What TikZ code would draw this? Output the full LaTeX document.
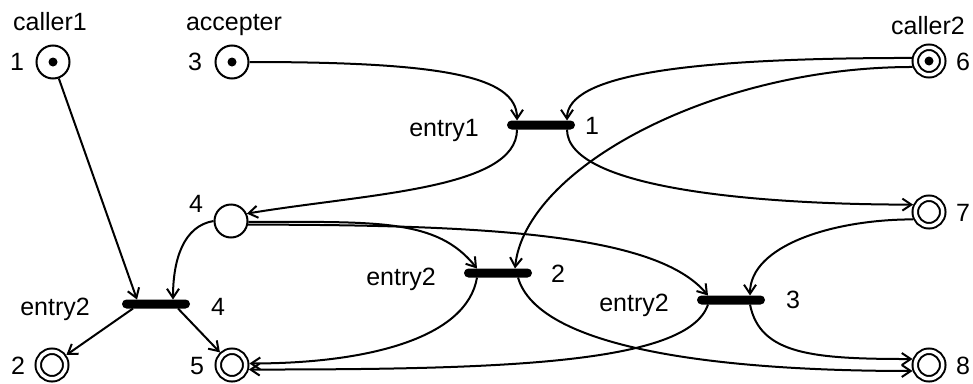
\documentclass[tikz,border=0pt]{standalone}
\usepackage{fontspec}
\setmainfont{Liberation Sans}
\usetikzlibrary{arrows.meta}
\begin{document}
\begin{tikzpicture}[x=1pt,y=-1pt,
  txt/.style={anchor=base,inner sep=0pt,font=\fontsize{25pt}{30pt}\selectfont},
  place/.style={circle,draw,line width=2pt,minimum size=33pt,inner sep=0pt,outer sep=1pt},
  final/.style={circle,draw,line width=2pt,double,double distance=3.5pt,minimum size=27.5pt,inner sep=0pt,outer sep=3.75pt},
  token/.style={path picture={\fill (path picture bounding box.center) circle (4.5pt);}},
  bar/.style={rectangle,fill,rounded corners=4.5pt,minimum width=68pt,minimum height=9pt,inner sep=0pt,outer sep=0pt},
  arc/.style={line width=2pt,-{Straight Barb[length=9pt,width=12pt]}}
]
\useasboundingbox (0,0) rectangle (973,383);
% places
\node[place,token] (p1) at (53,62) {};
\node[place,token] (p3) at (232,62) {};
\node[final,token] (p6) at (929,61) {};
\node[place] (p4) at (231,221) {};
\node[final] (p7) at (929,212) {};
\node[final] (p2) at (52,365) {};
\node[final] (p5) at (232,365) {};
\node[final] (p8) at (929,365) {};
% transitions
\node[bar] (t1) at (541,125) {};
\node[bar] (t2) at (498,273) {};
\node[bar] (t3) at (731,300) {};
\node[bar] (t4) at (156,304) {};
% labels
\node[txt] (lc1) at (50,30) {caller1};
\node[txt] (lac) at (234,30) {accepter};
\node[txt] (lc2) at (928,34) {caller2};
\node[txt] (n1) at (17,70) {1};
\node[txt] (n3) at (195,70) {3};
\node[txt] (n6) at (963,70) {6};
\node[txt] (n4) at (196,212) {4};
\node[txt] (n7) at (963,221) {7};
\node[txt] (n2) at (18,374) {2};
\node[txt] (n5) at (197,374) {5};
\node[txt] (n8) at (963,374) {8};
\node[txt] (e1) at (444,136) {entry1};
\node[txt] (t1n) at (592,134) {1};
\node[txt] (e2) at (401,285) {entry2};
\node[txt] (t2n) at (558,282) {2};
\node[txt] (e3) at (634,311) {entry2};
\node[txt] (t3n) at (793,308) {3};
\node[txt] (e4) at (55,315) {entry2};
\node[txt] (t4n) at (218,315) {4};
% connection points on bars
\coordinate (t1in1) at ([xshift=-24pt]t1.north);
\coordinate (t1in2) at ([xshift=26pt]t1.north);
\coordinate (t1out1) at ([xshift=-24pt]t1.south);
\coordinate (t1out2) at ([xshift=26pt]t1.south);
\coordinate (t2in1) at ([xshift=-21pt]t2.north);
\coordinate (t2in2) at ([xshift=17pt]t2.north);
\coordinate (t2out1) at ([xshift=-21pt]t2.south);
\coordinate (t2out2) at ([xshift=20pt]t2.south);
\coordinate (t3in1) at ([xshift=-23pt]t3.north);
\coordinate (t3in2) at ([xshift=19pt]t3.north);
\coordinate (t3out1) at ([xshift=-23pt]t3.south);
\coordinate (t3out2) at ([xshift=19pt]t3.south);
\coordinate (t4in1) at ([xshift=-19pt]t4.north);
\coordinate (t4in2) at ([xshift=17pt]t4.north);
\coordinate (t4out1) at ([xshift=-23pt]t4.south);
\coordinate (t4out2) at ([xshift=22pt]t4.south);
% arcs
\draw[arc] (p1) -- (t4in1);
\draw[arc] (p4.west) .. controls +(-30,5) and +(0,-40) .. (t4in2);
\draw[arc] (t4out1) -- (p2);
\draw[arc] (t4out2) -- (p5);
\draw[arc] (p3.east) .. controls +(190,0) and +(0,-45) .. (t1in1);
\draw[arc] (p6.170) .. controls +(-230,0) and +(0,-45) .. (t1in2);
\draw[arc] (t1out1) .. controls +(0,60) and +(120,-20) .. (p4.25);
\draw[arc] (t1out2) .. controls +(0,60) and +(-150,0) .. (p7.155);
\draw[arc] (p6.200) .. controls +(-200,0) and +(10,-100) .. (t2in2);
\draw[arc] (p4.-3) .. controls +(130,0) and +(-40,-50) .. (t2in1);
\draw[arc] (p4.-12) .. controls +(250,0) and +(-50,-60) .. (t3in1);
\draw[arc] (p7.205) .. controls +(-80,0) and +(0,-50) .. (t3in2);
\draw[arc] (t2out1) .. controls +(-10,60) and +(120,0) .. (p5.5);
\draw[arc] (t3out1) .. controls +(-20,60) and +(250,0) .. (p5.-15);
\draw[arc] (t2out2) .. controls +(20,70) and +(-200,0) .. (p8.200);
\draw[arc] (t3out2) .. controls +(10,50) and +(-100,0) .. (p8.160);
\end{tikzpicture}
\end{document}
